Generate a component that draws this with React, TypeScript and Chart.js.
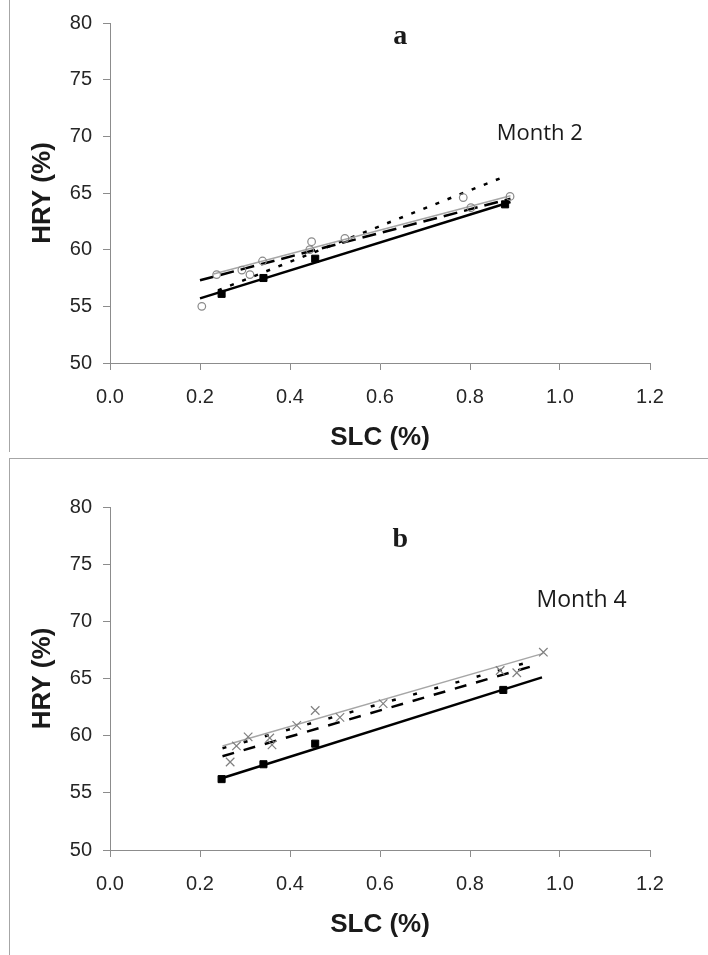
import React, { useEffect, useRef } from "react";
import { Chart, registerables } from "chart.js";

Chart.register(...registerables);

// ---------- axes ----------
const xMin = 0;
const xMax = 1.2;
const xStep = 0.2;
const yMin = 50;
const yMax = 80;
const yStep = 5;
const xAxisTitle = "SLC (%)";
const yAxisTitle = "HRY (%)";

// ---------- panel a (Month 2) ----------
const aSquaresX = [0.248, 0.341, 0.456, 0.878];
const aSquaresY = [56.1, 57.5, 59.2, 64.0];
const aCirclesX = [0.204, 0.237, 0.293, 0.311, 0.339, 0.444, 0.448, 0.522, 0.785, 0.802, 0.889];
const aCirclesY = [55.0, 57.8, 58.2, 57.8, 59.0, 60.0, 60.7, 61.0, 64.6, 63.7, 64.7];
const aSolidX = [0.2, 0.89];
const aSolidY = [55.7, 64.2];
const aDashX = [0.2, 0.89];
const aDashY = [57.3, 64.5];
const aGrayX = [0.23, 0.89];
const aGrayY = [57.85, 64.75];
const aDotX = [0.24, 0.88];
const aDotY = [56.4, 66.5];
const aLetter = "a";
const aMonth = "Month 2";

// ---------- panel b (Month 4) ----------
const bSquaresX = [0.248, 0.341, 0.456, 0.874];
const bSquaresY = [56.2, 57.5, 59.3, 64.0];
const bCrossesX = [0.267, 0.281, 0.307, 0.355, 0.36, 0.415, 0.456, 0.511, 0.607, 0.867, 0.904, 0.963];
const bCrossesY = [57.7, 59.1, 59.9, 59.8, 59.2, 60.9, 62.2, 61.6, 62.8, 65.7, 65.5, 67.3];
const bSolidX = [0.25, 0.96];
const bSolidY = [56.3, 65.1];
const bGrayX = [0.25, 0.963];
const bGrayY = [59.1, 67.2];
const bShortDashX = [0.25, 0.945];
const bShortDashY = [58.9, 66.6];
const bLongDashX = [0.25, 0.94];
const bLongDashY = [58.2, 66.1];
const bLetter = "b";
const bMonth = "Month 4";

const zip = (xs: number[], ys: number[]) => xs.map((x, i) => ({ x, y: ys[i] }));

type TextItem = { text: string; x: number; y: number; font: string };

function markerSet(data: any[], style: string, radius: number, color: string, fill: string, bw: number) {
  return {
    data,
    showLine: false,
    pointStyle: style,
    pointRadius: radius,
    pointBorderColor: color,
    pointBackgroundColor: fill,
    pointBorderWidth: bw,
    order: 0,
  };
}

function lineSet(data: any[], color: string, width: number, dash: number[]) {
  return {
    data,
    showLine: true,
    borderColor: color,
    borderWidth: width,
    borderDash: dash,
    pointRadius: 0,
    fill: false,
    order: 1,
  };
}

function makeChart(
  canvas: HTMLCanvasElement,
  datasets: any[],
  texts: TextItem[],
  padTop: number,
  xAxisHeight: number,
  xTitlePad: number
) {
  const textPlugin = {
    id: "panelText",
    afterDatasetsDraw(chart: any) {
      const { ctx, scales } = chart;
      for (const t of texts) {
        ctx.save();
        ctx.font = t.font;
        ctx.fillStyle = "#1a1a1a";
        ctx.textAlign = "center";
        ctx.textBaseline = "middle";
        ctx.fillText(t.text, scales.x.getPixelForValue(t.x), scales.y.getPixelForValue(t.y));
        ctx.restore();
      }
    },
  };
  const tickFont = { family: "'Liberation Sans', Arial, sans-serif", size: 20 };
  const titleFont = { family: "'Liberation Sans', Arial, sans-serif", size: 26, weight: "bold" as const };
  return new Chart(canvas, {
    type: "scatter",
    data: { datasets },
    plugins: [textPlugin],
    options: {
      animation: false,
      responsive: false,
      layout: { padding: { left: 0, right: 58, top: padTop, bottom: 0 } },
      plugins: { legend: { display: false }, tooltip: { enabled: false } },
      scales: {
        x: {
          type: "linear",
          min: xMin,
          max: xMax,
          afterFit: (s: any) => {
            s.height = xAxisHeight;
          },
          ticks: {
            stepSize: xStep,
            color: "#262626",
            font: tickFont,
            padding: 15,
            callback: (v: any) => Number(v).toFixed(1),
          },
          grid: { drawOnChartArea: false, drawTicks: true, tickLength: 7, color: "#8c8c8c" },
          border: { display: true, color: "#8c8c8c", width: 1 },
          title: {
            display: true,
            text: xAxisTitle,
            color: "#1a1a1a",
            font: titleFont,
            padding: { top: 0, bottom: xTitlePad },
          },
        },
        y: {
          type: "linear",
          min: yMin,
          max: yMax,
          afterFit: (s: any) => {
            s.width = 110;
          },
          ticks: { stepSize: yStep, color: "#262626", font: tickFont, padding: 11 },
          grid: { drawOnChartArea: false, drawTicks: true, tickLength: 7, color: "#8c8c8c" },
          border: { display: true, color: "#8c8c8c", width: 1 },
          title: {
            display: true,
            text: yAxisTitle,
            color: "#1a1a1a",
            font: titleFont,
            padding: { top: 27, bottom: 0 },
          },
        },
      },
    },
  } as any);
}

export default function App() {
  const refA = useRef<HTMLCanvasElement>(null);
  const refB = useRef<HTMLCanvasElement>(null);

  useEffect(() => {
    const letterFont = "bold 28px 'Liberation Serif', 'Times New Roman', serif";
    const chartA = makeChart(
      refA.current!,
      [
        markerSet(zip(aSquaresX, aSquaresY), "rect", 5, "#000", "#000", 1),
        markerSet(zip(aCirclesX, aCirclesY), "circle", 3.8, "#8a8a8a", "rgba(255,255,255,0)", 1.2),
        lineSet(zip(aSolidX, aSolidY), "#000", 2.5, []),
        lineSet(zip(aDashX, aDashY), "#000", 2.5, [14, 7]),
        lineSet(zip(aGrayX, aGrayY), "#a6a6a6", 1.5, []),
        lineSet(zip(aDotX, aDotY), "#000", 2.5, [4, 9]),
      ],
      [
        { text: aLetter, x: 0.645, y: 78.8, font: letterFont },
        { text: aMonth, x: 0.955, y: 70.2, font: "22px 'Open Sans', sans-serif" },
      ],
      20,
      95,
      5
    );
    const chartB = makeChart(
      refB.current!,
      [
        markerSet(zip(bSquaresX, bSquaresY), "rect", 5, "#000", "#000", 1),
        markerSet(zip(bCrossesX, bCrossesY), "crossRot", 6, "#808080", "#808080", 1.2),
        lineSet(zip(bSolidX, bSolidY), "#000", 2.5, []),
        lineSet(zip(bGrayX, bGrayY), "#a6a6a6", 1.5, []),
        lineSet(zip(bShortDashX, bShortDashY), "#000", 2.5, [4, 18]),
        lineSet(zip(bLongDashX, bLongDashY), "#000", 2.5, [12, 10]),
      ],
      [
        { text: bLetter, x: 0.645, y: 77.1, font: letterFont },
        { text: bMonth, x: 1.048, y: 71.8, font: "23px 'Open Sans', sans-serif" },
      ],
      49,
      105,
      15
    );
    return () => {
      chartA.destroy();
      chartB.destroy();
    };
  }, []);

  const line = "#a6a6a6";
  return (
    <div style={{ position: "absolute", left: 0, top: 0, width: 708, height: 955, background: "#fff", overflow: "hidden" }}>
      <canvas ref={refA} width={708} height={458} style={{ position: "absolute", left: 0, top: 0, display: "block" }} />
      <canvas ref={refB} width={708} height={497} style={{ position: "absolute", left: 0, top: 458, display: "block" }} />
      <div style={{ position: "absolute", left: 9, top: 0, width: 1, height: 452, background: line }} />
      <div style={{ position: "absolute", left: 9, top: 458, width: 699, height: 1, background: line }} />
      <div style={{ position: "absolute", left: 9, top: 458, width: 1, height: 497, background: line }} />
    </div>
  );
}
